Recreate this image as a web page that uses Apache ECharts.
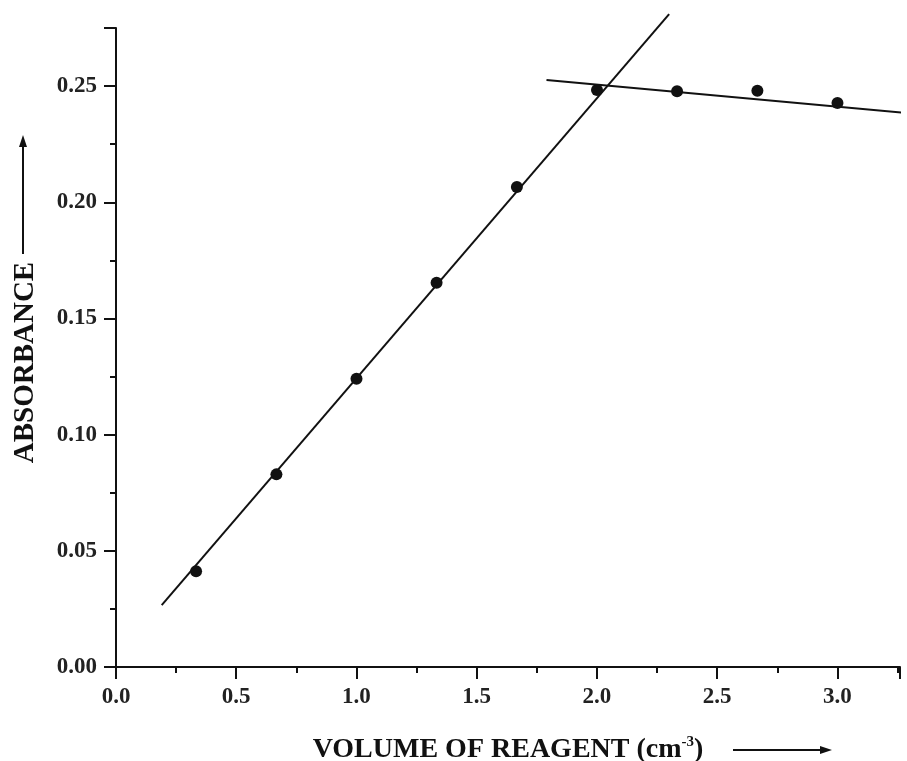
<!DOCTYPE html>
<html>
<head>
<meta charset="utf-8">
<script src="https://cdn.jsdelivr.net/npm/echarts@6/dist/echarts.min.js"></script>
<style>
  html, body { margin: 0; padding: 0; background: #fff; }
  #main { width: 907px; height: 761px; }
</style>
</head>
<body>
<div id="main"></div>
<script>
var chartDom = document.getElementById('main');
var myChart = echarts.init(chartDom);

// measured points
var volume = [0.333, 0.667, 1.0, 1.333, 1.667, 2.0, 2.333, 2.667, 3.0];
var absorbance = [0.0412, 0.0829, 0.1241, 0.1654, 0.2066, 0.2483, 0.2478, 0.2480, 0.2427];

// the two straight lines drawn through the points
var riseX = [0.19, 2.30];
var riseY = [0.0266, 0.281];
var flatX = [1.79, 3.29];
var flatY = [0.2526, 0.2384];

var font = '"Liberation Serif", "Times New Roman", serif';

function pairs(xs, ys) {
  var out = [];
  for (var i = 0; i < xs.length; i++) out.push([xs[i], ys[i]]);
  return out;
}

var option = {
  backgroundColor: '#fff',
  animation: false,
  grid: { left: 116, top: 28, right: 7, bottom: 94, outerBoundsMode: 'none', containLabel: false },
  xAxis: {
    type: 'value',
    min: 0,
    max: 3.26,
    interval: 0.5,
    name: 'VOLUME OF REAGENT (cm{sup|-3})',
    nameLocation: 'middle',
    nameGap: 68,
    nameTextStyle: {
      fontFamily: font, fontWeight: 'bold', fontSize: 28, color: '#111',
      rich: {
        sup: { fontFamily: font, fontWeight: 'bold', fontSize: 15, color: '#111', verticalAlign: 'top', padding: [0, 0, 14, 0] }
      }
    },
    axisLine: { lineStyle: { color: '#111', width: 2 } },
    axisTick: { inside: false, length: 12, lineStyle: { color: '#111', width: 2 } },
    minorTick: { show: true, splitNumber: 2, length: 6, lineStyle: { color: '#111', width: 2 } },
    axisLabel: {
      margin: 19, fontFamily: font, fontWeight: 'bold', fontSize: 23, color: '#222',
      showMaxLabel: false,
      formatter: function (v) { return v.toFixed(1); }
    },
    splitLine: { show: false }
  },
  yAxis: {
    type: 'value',
    min: 0,
    max: 0.275,
    interval: 0.05,
    name: 'ABSORBANCE',
    nameLocation: 'middle',
    nameGap: 76,
    nameTextStyle: {
      fontFamily: font, fontWeight: 'bold', fontSize: 29, color: '#111',
      padding: [0, 30, 0, 0]
    },
    axisLine: { lineStyle: { color: '#111', width: 2 } },
    axisTick: { inside: false, length: 12, lineStyle: { color: '#111', width: 2 } },
    minorTick: { show: true, splitNumber: 2, length: 6, lineStyle: { color: '#111', width: 2 } },
    axisLabel: {
      margin: 19, fontFamily: font, fontWeight: 'bold', fontSize: 23, color: '#222',
      showMaxLabel: false,
      formatter: function (v) { return v.toFixed(2); }
    },
    splitLine: { show: false }
  },
  series: [
    {
      type: 'line',
      data: pairs(riseX, riseY),
      symbol: 'none',
      clip: false,
      lineStyle: { color: '#111', width: 2 }
    },
    {
      type: 'line',
      data: pairs(flatX, flatY),
      symbol: 'none',
      clip: false,
      lineStyle: { color: '#111', width: 2 }
    },
    {
      type: 'scatter',
      data: pairs(volume, absorbance),
      symbol: 'circle',
      symbolSize: 12,
      itemStyle: { color: '#111', opacity: 1 }
    }
  ],
  graphic: [
    // arrow beside the y axis name
    { type: 'line', shape: { x1: 23, y1: 254, x2: 23, y2: 144 }, style: { stroke: '#111', lineWidth: 2 } },
    { type: 'polygon', shape: { points: [[23, 135], [19, 147], [27, 147]] }, style: { fill: '#111' } },
    // arrow after the x axis name
    { type: 'line', shape: { x1: 733, y1: 750, x2: 822, y2: 750 }, style: { stroke: '#111', lineWidth: 2 } },
    { type: 'polygon', shape: { points: [[832, 750], [820, 746], [820, 754]] }, style: { fill: '#111' } }
  ]
};

myChart.setOption(option);
</script>
</body>
</html>
